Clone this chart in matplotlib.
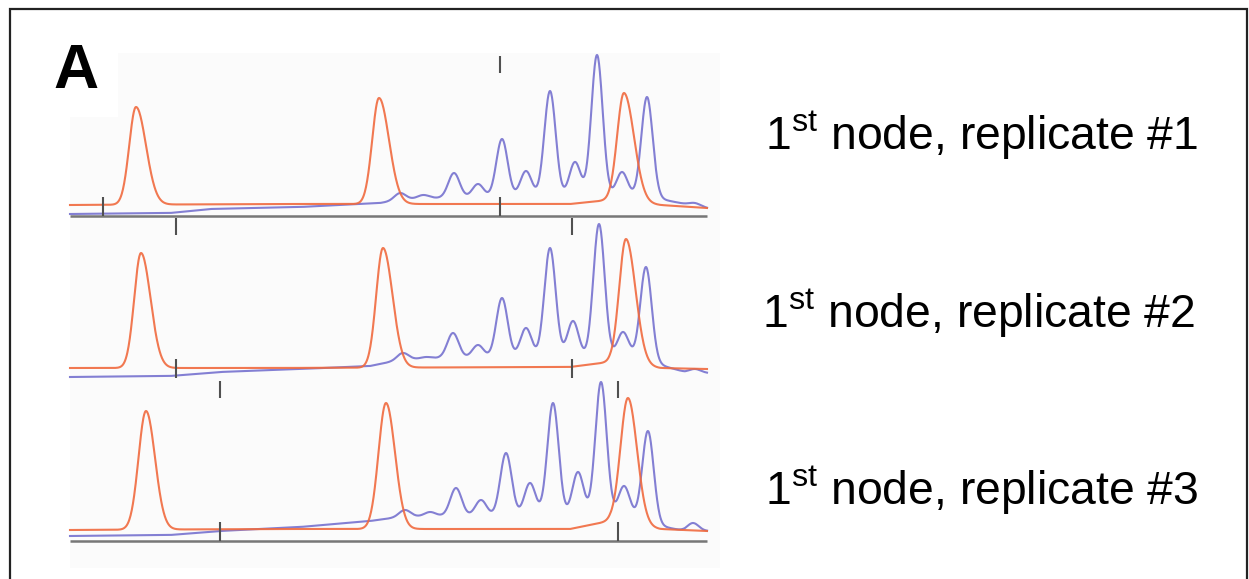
import numpy as np
import matplotlib
matplotlib.use("Agg")
from matplotlib import pyplot as plt
from matplotlib.patches import Polygon, Rectangle

W, H = 1249, 579

plt.rcParams['font.family'] = ['Liberation Sans', 'DejaVu Sans']
plt.rcParams['mathtext.fontset'] = 'custom'
plt.rcParams['mathtext.rm'] = 'Liberation Sans'

# scan positions are in data points 0..637, signal in arbitrary units
labels = ["1$^{\\mathrm{st}}$ node, replicate #1",
          "1$^{\\mathrm{st}}$ node, replicate #2",
          "1$^{\\mathrm{st}}$ node, replicate #3"]

# orange (size standard) peaks: position, top, left width, right width
orange_pos = [[66, 309, 554], [71, 313, 556], [76, 316, 558]]
orange_top = [[109, 118, 123], [125, 130, 139], [130, 138, 143]]
orange_wl = [6.8, 6.8, 7.5]
orange_wr = [10.0, 9.5, 9.0]
orange_base_x = [[0, 200, 500, 540, 590, 637],
                 [0, 200, 500, 540, 590, 637],
                 [0, 200, 500, 540, 590, 637]]
orange_base_y = [[11, 12, 12, 16, 11, 8],
                 [10, 10, 11, 16, 10, 9],
                 [11, 12, 12, 20, 12, 10]]

# blue (sample) peaks: position, top
blue_pos = [[330, 353, 384, 408, 432, 456, 480, 505, 527, 552, 577, 625],
            [333, 356, 383, 408, 432, 456, 480, 503, 529, 553, 576, 625],
            [335, 360, 386, 411, 436, 460, 483, 508, 531, 554, 578, 623]]
blue_top = [[23, 21, 43, 32, 77, 45, 125, 54, 161, 44, 119, 13],
            [25, 21, 45, 33, 80, 50, 130, 57, 154, 46, 111, 9],
            [31, 29, 53, 41, 88, 58, 138, 69, 159, 55, 110, 18]]
blue_base_x = [[0, 100, 140, 230, 310, 330, 360, 560, 590, 615, 637],
               [0, 100, 150, 230, 300, 330, 370, 560, 590, 615, 637],
               [0, 100, 150, 230, 300, 330, 370, 560, 590, 615, 637]]
blue_base_y = [[2, 3, 7, 9, 13, 16, 18, 19, 17, 12, 8],
               [1, 2, 6, 9, 12, 18, 20, 20, 13, 6, 5],
               [5, 6, 10, 14, 20, 24, 25, 24, 15, 10, 10]]

bottom_ticks = [[33, 430], [106, 502], [150, 548]]
top_ticks = [[430], [106, 502], [150, 548]]
axis_line = [True, False, True]

# pixel layout of the three panels (axis row and top)
panel_axis_px = [216, 378, 541]
panel_top_px = [53, 220, 380]
text_base_px = [150, 328, 505]
text_x_px = [765, 762, 765]

ORANGE = '#f06a3e'
BLUE = '#7672cf'


def trace(xs, base_x, base_y, pos, top, wl, wr):
    base = np.interp(xs, base_x, base_y)
    y = base.copy()
    for p, t, l, r in zip(pos, top, wl, wr):
        amp = t - np.interp(p, base_x, base_y)
        s = np.where(xs < p, l, r)
        y += amp * np.exp(-0.5 * ((xs - p) / s) ** 2)
    return y


fig = plt.figure(figsize=(W / 100, H / 100), dpi=100)

# outer frame
fig.patches.append(Rectangle((10 / W, -0.05), 1237 / W, 1.05 - 9 / H,
                             transform=fig.transFigure, fill=False,
                             edgecolor='#222222', lw=1.6))
# pale image background with a notch for the panel letter
bg = [(70, 117), (118, 117), (118, 53), (720, 53), (720, 568), (70, 568)]
fig.patches.append(Polygon([(x / W, 1 - y / H) for x, y in bg], closed=True,
                           transform=fig.transFigure, facecolor='#fbfbfb',
                           edgecolor='none', zorder=-1))

xs = np.linspace(0, 637, 1600)
for i in range(3):
    h = panel_axis_px[i] - panel_top_px[i]
    ax = fig.add_axes([70 / W, 1 - panel_axis_px[i] / H, 637 / W, h / H])
    ax.set_zorder(1)
    ax.set_xlim(0, 637)
    ax.set_ylim(0, h)
    ax.axis('off')

    yo = trace(xs, orange_base_x[i], orange_base_y[i], orange_pos[i],
               orange_top[i], [orange_wl[i]] * 3, [orange_wr[i]] * 3)
    yb = trace(xs, blue_base_x[i], blue_base_y[i], blue_pos[i],
               blue_top[i], [5.7] * 12, [5.7] * 12)
    ax.plot(xs, yb, color=BLUE, lw=1.5, alpha=0.9, clip_on=False, zorder=2)
    ax.plot(xs, yo, color=ORANGE, lw=1.5, alpha=0.9, clip_on=False, zorder=3)

    if axis_line[i]:
        ax.plot([0, 637], [0, 0], color='#777777', lw=1.8, clip_on=False,
                zorder=4, solid_capstyle='butt')
    ax.vlines(bottom_ticks[i], 0, 19, color='#505050', lw=1.5,
              clip_on=False, zorder=5)
    ax.vlines(top_ticks[i], 143, 160, color='#505050', lw=1.5,
              clip_on=False, zorder=5)

    fig.text(text_x_px[i] / W, 1 - text_base_px[i] / H, labels[i],
             fontsize=33.3, ha='left', va='baseline', color='black')

fig.text(76 / W, 1 - 71 / H, 'A', fontsize=45, fontweight='bold',
         ha='center', va='center')

fig.savefig('out.png', dpi=100, facecolor='white')
